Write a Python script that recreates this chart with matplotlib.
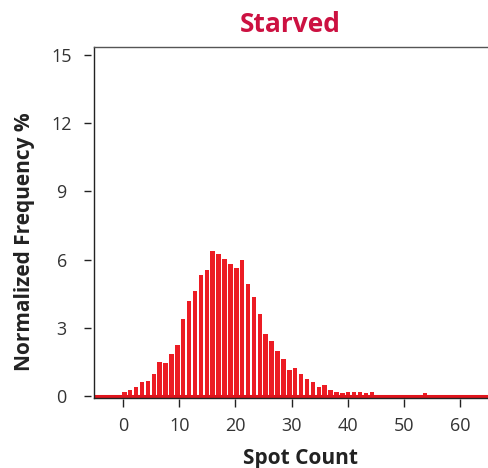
import numpy as np
import matplotlib
matplotlib.use("Agg")
import matplotlib.pyplot as plt

# ---- data ----
title = "Starved"
x_label = "Spot Count"
y_label = "Normalized Frequency %"
# normalized frequency (%) per spot-count bin, starting at bin 0
freq = [0.19, 0.26, 0.40, 0.60, 0.67, 0.95, 1.50, 1.44, 1.85, 2.26,
        3.37, 4.19, 4.62, 5.32, 5.53, 6.38, 6.23, 6.03, 5.82, 5.62,
        5.97, 4.91, 4.34, 3.59, 2.74, 2.41, 1.98, 1.64, 1.14, 1.23,
        0.95, 0.73, 0.60, 0.40, 0.48, 0.25, 0.19, 0.12, 0.19, 0.19,
        0.19, 0.12, 0.19, 0.0, 0.0, 0.0, 0.0, 0.0, 0.0, 0.0,
        0.0, 0.15]
x_ticks = [0, 10, 20, 30, 40, 50, 60]
y_ticks = [0, 3, 6, 9, 12, 15]

# ---- layout / style ----
bin_width = 1.05
bin_start = 0.2
bar_color = "#ec1c24"
title_color = "#cc1141"
text_color = "#333333"

plt.rcParams['font.family'] = ['Open Sans', 'DejaVu Sans']

fig = plt.figure(figsize=(4.88, 4.68), dpi=100)
W, H = 488, 468
ax = fig.add_axes([94 / W, 1 - 397.5 / H, (W - 94) / W, (397.5 - 46.7) / H])

centers = bin_start + np.arange(len(freq)) * bin_width
ax.bar(centers, freq, width=0.8, color=bar_color, linewidth=0, zorder=2)
ax.axhline(0, color="#e0141c", lw=2.2, zorder=3)

ax.set_xlim(-5.2, 65.0)
ax.set_ylim(-0.07, 15.37)

for s in ax.spines.values():
    s.set_visible(False)
ax.spines['left'].set_position(('outward', 2.4))
ax.spines['bottom'].set_position(('outward', 1.4))

# frame lines (left, top, bottom)
ax.plot([0, 0], [0, 1], transform=ax.transAxes, color="#222222", lw=1.0, clip_on=False, zorder=4)
ax.plot([0, 1], [1, 1], transform=ax.transAxes, color="#555555", lw=1.0, clip_on=False, zorder=4)
ax.plot([0, 1], [0, 0], transform=ax.transAxes, color="#222222", lw=1.0, clip_on=False, zorder=4)

ax.set_xticks(x_ticks)
ax.set_yticks(y_ticks)
ax.set_xticklabels([str(v) for v in x_ticks])
ax.set_yticklabels([str(v) for v in y_ticks])
ax.tick_params(axis='both', direction='out', length=5.4, width=1.0, color="#222222",
               labelsize=13, labelcolor=text_color)
ax.tick_params(axis='x', pad=7.5)
ax.tick_params(axis='y', pad=15.5)
for lab in ax.get_yticklabels():
    lab.set_horizontalalignment('center')

fig.text(290 / W, 1 - 32.3 / H, title, color=title_color, fontsize=19,
         fontweight='bold', ha='center', va='baseline')
fig.text(300.5 / W, 1 - 464 / H, x_label, color="#222222", fontsize=15,
         fontweight='bold', ha='center', va='baseline')
fig.text(25 / W, 1 - 241.7 / H, y_label, color="#222222", fontsize=15,
         fontweight='bold', ha='center', va='center', rotation=90)

fig.savefig("out.png", dpi=100)
